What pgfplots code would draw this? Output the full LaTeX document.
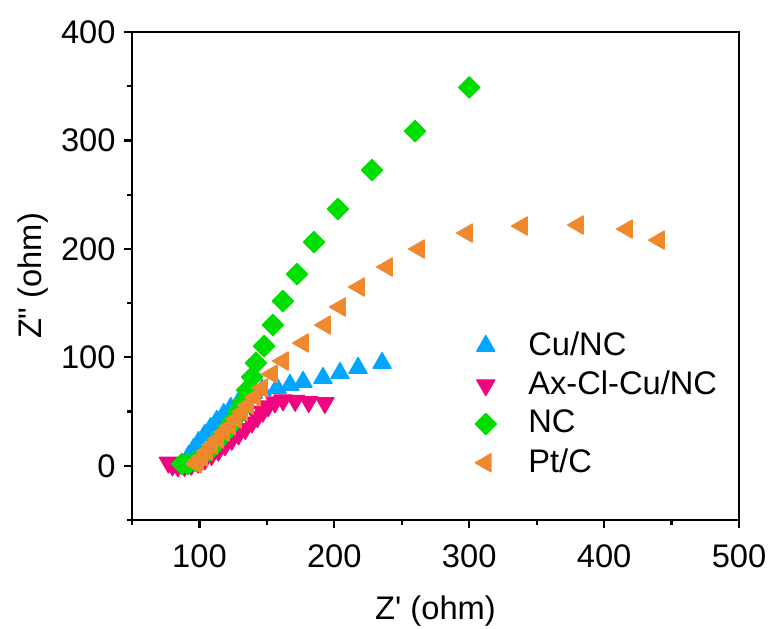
\documentclass[border=0pt]{standalone}
\usepackage{fontspec}
\setmainfont{Liberation Sans}
\newfontfamily\myfont{Liberation Sans}
\usepackage{pgfplots}
\pgfplotsset{compat=1.18}
\definecolor{cuBlue}{RGB}{0,166,255}
\definecolor{axMag}{RGB}{240,4,127}
\definecolor{ncGreen}{RGB}{0,221,0}
\definecolor{ptOrange}{RGB}{240,136,46}
\newcommand{\bigf}{\myfont\fontsize{24.5}{29}\selectfont}
\begin{document}
\bigf
\begin{tikzpicture}
\begin{axis}[
  width=455.25pt, height=366pt, scale only axis,
  xmin=50, xmax=500, ymin=-50, ymax=400,
  xtick={100,200,...,500}, ytick={0,100,...,400},
  minor xtick={50,150,...,450}, minor ytick={-50,50,...,350},
  tick align=outside, xtick pos=bottom, ytick pos=left,
  major tick length=6pt, minor tick length=3.5pt,
  every tick/.style={black, line width=1.6pt},
  axis line style={line width=1.8pt},
  /pgf/number format/assume math mode=true,
  tick label style={font=\bigf},
  xticklabel style={yshift=-4pt},
  yticklabel style={xshift=2pt},
  label style={font=\bigf},
  xlabel={Z' (ohm)}, ylabel={Z" (ohm)},
  xlabel style={yshift=-5pt},
  ylabel style={yshift=-7pt},
  legend style={at={(rel axis cs:0.565,0.392)}, anchor=north west, draw=none, fill=none,
    font=\bigf, row sep=4pt, inner sep=0pt},
  legend cell align=left,
  every axis plot/.append style={only marks, line join=round, line width=1pt},
]
\addplot[cuBlue, mark=triangle*, mark size=7.8pt, mark options={fill=cuBlue, draw=cuBlue}] table {
x y
90 2
92 9
95.7 15.5
99.4 21.9
103.9 28.4
108.3 34.8
112.8 41.3
118 47.7
123.2 53.3
129.1 58.8
134.5 63.4
140 67.1
146.4 69.9
157.5 71.7
167.1 74.5
176.8 77.3
191.6 80.9
204.2 85.5
217.6 90.2
235.4 94.8
};
\addlegendentry{\hspace{22pt}Cu/NC}
\addplot[axMag, mark=triangle*, mark size=7.8pt, mark options={rotate=180, fill=axMag, draw=axMag}] table {
x y
77 3
80 0.5
84 -0.5
89 0
94 1
99 3
104 6
109 10
114 14
119 19
124 24
129 29
134 34
139 40
143 45
147 50
151 55
156 58.5
162 60.5
171 60
181 58.8
193 58
};
\addlegendentry{\hspace{22pt}Ax-Cl-Cu/NC}
\addplot[ncGreen, mark=square*, mark size=5.6pt, mark options={rotate=45, fill=ncGreen, draw=ncGreen}] table {
x y
87 1.6
91.5 1.6
97.4 4.4
102.6 9
107.8 14.5
112.3 21
116.7 27.5
121.2 34.8
125 42
128.6 49.6
132.3 58.8
135.3 69.9
139 81.9
141.9 94.8
147.9 110.4
154.5 129.8
161.9 151.9
172.3 176.8
184.9 206.3
202.7 236.8
227.9 272.7
259.8 308.7
300 349
};
\addlegendentry{\hspace{22pt}NC}
\addplot[ptOrange, mark=triangle*, mark size=7.8pt, mark options={rotate=90, fill=ptOrange, draw=ptOrange}] table {
x y
97.4 1.6
98.9 4.4
101.9 8.1
105.6 13.6
109.3 19.2
113.8 24.7
118.2 31.1
122.7 36.7
127.1 43.1
131.6 49.6
136 56
141.2 63.4
146.4 71.7
153.8 84.6
161.9 96.6
176.8 113.2
193.1 129.8
204.2 146.4
218.3 164.8
239.1 183.3
262.8 199.9
298.4 214.6
339.1 221.1
380.7 222.0
417 218.3
440.7 208.1
};
\addlegendentry{\hspace{22pt}Pt/C}
\end{axis}
\pgfresetboundingbox
\path[use as bounding box] ([shift={(-99pt,-81pt)}]current axis.south west) rectangle ([shift={(26.25pt,24pt)}]current axis.north east);
\end{tikzpicture}
\end{document}
